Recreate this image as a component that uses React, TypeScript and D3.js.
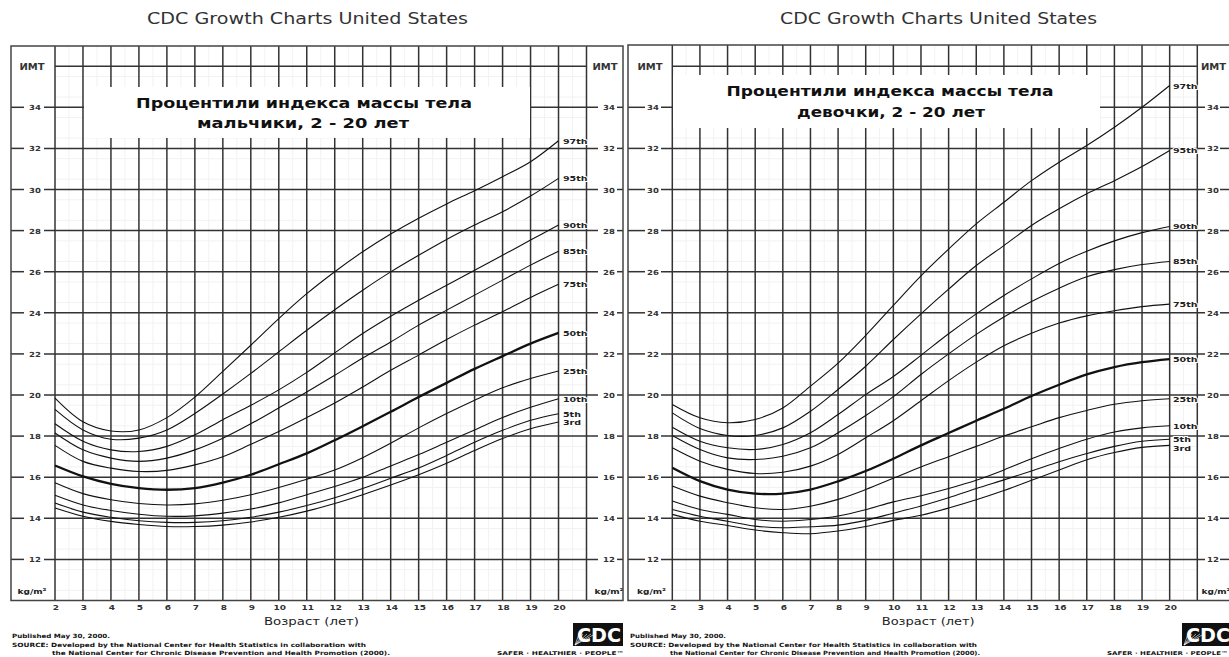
import React from "react";
import * as d3 from "d3";

// ---------- DATA ----------
const ages = [2, 3, 4, 5, 6, 7, 8, 9, 10, 11, 12, 13, 14, 15, 16, 17, 18, 19, 20];
const yTicks = [12, 14, 16, 18, 20, 22, 24, 26, 28, 30, 32, 34];
const xTickLabels = ["2", "3", "4", "5", "6", "7", "8", "9", "10", "11", "12", "13", "14", "15", "16", "17", "18", "19", "20"];
const percentileLabels = ["97th", "95th", "90th", "85th", "75th", "50th", "25th", "10th", "5th", "3rd"];

const boysP97 = [19.85, 18.7, 18.25, 18.3, 18.9, 19.9, 21.15, 22.42, 23.72, 24.93, 26.0, 26.97, 27.83, 28.6, 29.3, 29.94, 30.62, 31.35, 32.37];
const boysP95 = [19.3, 18.3, 17.85, 17.9, 18.3, 19.1, 20.05, 21.05, 22.1, 23.15, 24.15, 25.1, 25.99, 26.8, 27.57, 28.27, 28.92, 29.68, 30.54];
const boysP90 = [18.6, 17.75, 17.33, 17.25, 17.5, 18.06, 18.8, 19.5, 20.25, 21.1, 22.05, 22.99, 23.83, 24.61, 25.34, 26.07, 26.8, 27.54, 28.27];
const boysP85 = [18.15, 17.33, 16.93, 16.77, 16.93, 17.33, 17.9, 18.6, 19.37, 20.15, 20.96, 21.8, 22.58, 23.4, 24.13, 24.86, 25.59, 26.32, 27.0];
const boysP75 = [17.55, 16.77, 16.44, 16.28, 16.33, 16.6, 17.0, 17.6, 18.22, 18.9, 19.61, 20.39, 21.2, 21.94, 22.7, 23.4, 24.05, 24.75, 25.39];
const boysP50 = [16.57, 16.04, 15.68, 15.47, 15.39, 15.47, 15.74, 16.12, 16.63, 17.16, 17.8, 18.48, 19.18, 19.9, 20.59, 21.27, 21.89, 22.5, 23.02];
const boysP25 = [15.73, 15.2, 14.9, 14.72, 14.65, 14.7, 14.88, 15.15, 15.5, 15.9, 16.35, 16.95, 17.65, 18.4, 19.1, 19.75, 20.35, 20.8, 21.17];
const boysP10 = [15.12, 14.65, 14.38, 14.2, 14.1, 14.12, 14.25, 14.45, 14.75, 15.15, 15.55, 16.0, 16.55, 17.1, 17.7, 18.3, 18.9, 19.4, 19.82];
const boysP5 = [14.74, 14.3, 14.05, 13.88, 13.8, 13.8, 13.88, 14.05, 14.3, 14.62, 15.0, 15.45, 15.95, 16.45, 17.06, 17.7, 18.28, 18.77, 19.09];
const boysP3 = [14.5, 14.1, 13.85, 13.7, 13.6, 13.6, 13.67, 13.82, 14.05, 14.35, 14.72, 15.15, 15.62, 16.12, 16.68, 17.3, 17.88, 18.36, 18.69];

const girlsP97 = [19.54, 18.89, 18.65, 18.81, 19.37, 20.43, 21.55, 22.9, 24.36, 25.8, 27.1, 28.33, 29.38, 30.43, 31.33, 32.14, 33.03, 34.0, 35.06];
const girlsP95 = [19.13, 18.37, 18.03, 18.03, 18.4, 19.21, 20.27, 21.4, 22.7, 23.95, 25.15, 26.3, 27.27, 28.25, 29.06, 29.79, 30.43, 31.12, 31.9];
const girlsP90 = [18.43, 17.75, 17.43, 17.35, 17.59, 18.16, 19.05, 20.02, 20.9, 21.93, 22.98, 23.95, 24.84, 25.65, 26.4, 27.0, 27.5, 27.9, 28.2];
const girlsP85 = [18.03, 17.35, 16.94, 16.86, 17.02, 17.43, 18.16, 19.0, 19.92, 21.0, 22.0, 22.95, 23.8, 24.55, 25.2, 25.75, 26.1, 26.35, 26.5];
const girlsP75 = [17.43, 16.78, 16.38, 16.18, 16.24, 16.54, 17.11, 17.92, 18.75, 19.72, 20.7, 21.6, 22.4, 23.0, 23.5, 23.85, 24.1, 24.3, 24.42];
const girlsP50 = [16.46, 15.81, 15.4, 15.2, 15.2, 15.4, 15.8, 16.3, 16.9, 17.55, 18.15, 18.75, 19.33, 19.95, 20.5, 21.0, 21.36, 21.6, 21.75];
const girlsP25 = [15.57, 15.08, 14.76, 14.51, 14.43, 14.59, 14.92, 15.4, 15.95, 16.5, 17.0, 17.5, 18.0, 18.45, 18.9, 19.25, 19.55, 19.72, 19.82];
const girlsP10 = [14.84, 14.43, 14.19, 13.94, 13.86, 13.94, 14.11, 14.42, 14.8, 15.1, 15.45, 15.85, 16.35, 16.9, 17.4, 17.85, 18.2, 18.4, 18.5];
const girlsP5 = [14.43, 14.1, 13.86, 13.62, 13.54, 13.59, 13.67, 13.9, 14.25, 14.6, 15.0, 15.45, 15.87, 16.3, 16.75, 17.15, 17.5, 17.75, 17.85];
const girlsP3 = [14.19, 13.86, 13.65, 13.43, 13.3, 13.25, 13.38, 13.6, 13.9, 14.15, 14.5, 14.9, 15.35, 15.85, 16.35, 16.85, 17.2, 17.45, 17.55];

const boysSeries = [boysP97, boysP95, boysP90, boysP85, boysP75, boysP50, boysP25, boysP10, boysP5, boysP3];
const girlsSeries = [girlsP97, girlsP95, girlsP90, girlsP85, girlsP75, girlsP50, girlsP25, girlsP10, girlsP5, girlsP3];

const headerText = "CDC Growth Charts United States";
const titleLine1 = "Процентили индекса массы тела";
const boysTitle2 = "мальчики, 2 - 20 лет";
const girlsTitle2 = "девочки, 2 - 20 лет";
const bmiLabel = "ИМТ";
const unitLabel = "kg/m²";
const xAxisTitle = "Возраст (лет)";
const footer1 = "Published May 30, 2000.";
const footer2 = "SOURCE: Developed by the National Center for Health Statistics in collaboration with";
const footer3 = "the National Center for Chronic Disease Prevention and Health Promotion (2000).";
const sloganText = "SAFER · HEALTHIER · PEOPLE™";

// ---------- LAYOUT ----------
const FONT = "'DejaVu Sans', Verdana, sans-serif";
const SY = 0.82;
const GRID = "#333";
const yScale = d3.scaleLinear().domain([10, 36]).range([600.5, 66.2]);

type Cfg = {
  frameL: number; frameR: number; top: number;
  x2: number; x21: number;
  leftTickEnd: number; leftLabelX: number; leftLineStart: number;
  rightLineEnd: number; rightLabelX: number; rightTickStart: number;
  box: [number, number, number, number];
  title: { text: string; cx: number; y: number; w: number }[];
  headerCx: number; headerW: number;
  xTitleX: number; xTitleW: number;
  imtL: number; imtR: number; kgL: number; kgR: number;
  footX: number; footIndent: number; footW: [number, number, number];
  logoX: number; sloganX: number; sloganW: number; labelX: number;
  series: number[][];
};

const leftCfg: Cfg = {
  frameL: 11, frameR: 623, top: 46, x2: 55, x21: 586.5,
  leftTickEnd: 24, leftLabelX: 35, leftLineStart: 44,
  rightLineEnd: 598, rightLabelX: 609, rightTickStart: 617,
  box: [84, 530, 87, 138],
  title: [
    { text: titleLine1, cx: 304, y: 108, w: 336 },
    { text: boysTitle2, cx: 303, y: 128, w: 212 },
  ],
  headerCx: 307.5, headerW: 321,
  xTitleX: 264, xTitleW: 95,
  imtL: 32, imtR: 605, kgL: 32, kgR: 609,
  footX: 12, footIndent: 52, footW: [98, 354, 338],
  logoX: 573, sloganX: 497, sloganW: 127, labelX: 563,
  series: boysSeries,
};

const rightCfg: Cfg = {
  frameL: 628, frameR: 1236, top: 45, x2: 672.3, x21: 1197.3,
  leftTickEnd: 645, leftLabelX: 653, leftLineStart: 661,
  rightLineEnd: 1205, rightLabelX: 1213, rightTickStart: 1220,
  box: [673, 1100, 75, 128],
  title: [
    { text: titleLine1, cx: 890, y: 96, w: 327 },
    { text: girlsTitle2, cx: 891, y: 117, w: 188 },
  ],
  headerCx: 938.5, headerW: 317,
  xTitleX: 881.7, xTitleW: 93,
  imtL: 650, imtR: 1213.5, kgL: 651.5, kgR: 1216,
  footX: 630, footIndent: 670, footW: [96, 347, 310],
  logoX: 1182, sloganX: 1107, sloganW: 121, labelX: 1173,
  series: girlsSeries,
};

function T(props: {
  x: number; y: number; size: number; children: React.ReactNode;
  weight?: string | number; anchor?: string; w?: number; fill?: string; sy?: number; halo?: boolean;
}) {
  const { x, y, size, children, weight = "normal", anchor = "start", w, fill = "#222", sy = SY, halo } = props;
  return (
    <text
      transform={`translate(${x},${y}) scale(1,${sy})`}
      fontFamily={FONT}
      fontSize={size}
      fontWeight={weight as any}
      textAnchor={anchor as any}
      fill={fill}
      textLength={w}
      lengthAdjust={w ? "spacingAndGlyphs" : undefined}
      stroke={halo ? "#fff" : undefined}
      strokeWidth={halo ? 2.2 : undefined}
      style={halo ? { paintOrder: "stroke" } : undefined}
    >
      {children}
    </text>
  );
}

function Panel({ cfg }: { cfg: Cfg }) {
  const xScale = d3.scaleLinear().domain([2, 21]).range([cfg.x2, cfg.x21]);
  const bottom = yScale(10);
  const yearLines = d3.range(2, 22);
  const minorX = d3.range(2.5, 21, 1);
  const minorY = d3.range(10.5, 36, 1);
  const line = d3
    .line<number>()
    .x((_, i) => xScale(ages[i]))
    .y((d) => yScale(d))
    .curve(d3.curveCatmullRom.alpha(0.5));

  const ends = cfg.series.map((s) => yScale(s[s.length - 1]));
  const labelY = ends.slice();
  for (let i = 1; i < labelY.length; i++) {
    if (labelY[i] - labelY[i - 1] < 8.5) labelY[i] = labelY[i - 1] + 8.5;
  }

  const [bx0, bx1, by0, by1] = cfg.box;

  return (
    <g>
      <T x={cfg.headerCx} y={24} size={19} anchor="middle" w={cfg.headerW} fill="#333">
        {headerText}
      </T>

      {/* faint minor grid */}
      {minorX.map((a) => (
        <line key={"mx" + a} x1={xScale(a)} x2={xScale(a)} y1={cfg.top} y2={bottom} stroke="#f2f2f2" strokeWidth={1} />
      ))}
      {minorY.map((v) => (
        <line key={"my" + v} x1={cfg.x2} x2={cfg.x21} y1={yScale(v)} y2={yScale(v)} stroke="#f2f2f2" strokeWidth={1} />
      ))}

      {yearLines.map((a) => (
        <line key={"vx" + a} x1={xScale(a)} x2={xScale(a)} y1={cfg.top} y2={bottom} stroke={GRID} strokeWidth={1.5} />
      ))}

      {yTicks.map((v) => {
        const y = yScale(v);
        return (
          <g key={"hy" + v}>
            <line x1={cfg.frameL} x2={cfg.leftTickEnd} y1={y} y2={y} stroke={GRID} strokeWidth={1.5} />
            <line x1={cfg.leftLineStart} x2={cfg.rightLineEnd} y1={y} y2={y} stroke={GRID} strokeWidth={1.5} />
            <line x1={cfg.rightTickStart} x2={cfg.frameR} y1={y} y2={y} stroke={GRID} strokeWidth={1.5} />
            <T x={cfg.leftLabelX} y={y + 3} size={8.5} weight="bold" anchor="middle" fill="#333">{String(v)}</T>
            <T x={cfg.rightLabelX} y={y + 3} size={8.5} weight="bold" anchor="middle" fill="#333">{String(v)}</T>
          </g>
        );
      })}
      <line x1={cfg.x2} x2={cfg.x21} y1={yScale(36)} y2={yScale(36)} stroke={GRID} strokeWidth={1.5} />
      <T x={cfg.imtL} y={yScale(36) + 4} size={10} weight="bold" anchor="middle" fill="#333">{bmiLabel}</T>
      <T x={cfg.imtR} y={yScale(36) + 4} size={10} weight="bold" anchor="middle" fill="#333">{bmiLabel}</T>
      <T x={cfg.kgL} y={594} size={9} weight="bold" anchor="middle" fill="#222">{unitLabel}</T>
      <T x={cfg.kgR} y={594} size={9} weight="bold" anchor="middle" fill="#222">{unitLabel}</T>

      <rect x={cfg.frameL} y={cfg.top} width={cfg.frameR - cfg.frameL} height={bottom - cfg.top} fill="none" stroke="#444" strokeWidth={1.5} />

      <rect x={bx0} y={by0} width={bx1 - bx0} height={by1 - by0} fill="#fff" />
      {cfg.title.map((t, i) => (
        <T key={"t" + i} x={t.cx} y={t.y} size={17.5} weight="bold" anchor="middle" w={t.w} fill="#111">
          {t.text}
        </T>
      ))}

      {cfg.series.map((s, i) => (
        <path
          key={"c" + i}
          d={line(s) || ""}
          fill="none"
          stroke="#111"
          strokeWidth={percentileLabels[i] === "50th" ? 2.3 : 1.1}
        />
      ))}

      {percentileLabels.map((lab, i) => (
        <T key={"pl" + i} x={cfg.labelX} y={labelY[i] + 3} size={9.5} weight="bold" fill="#222" halo>
          {lab}
        </T>
      ))}

      {xTickLabels.map((lab, i) => (
        <T key={"xl" + i} x={xScale(ages[i]) + 1} y={610} size={9} weight="bold" anchor="middle" fill="#333">
          {lab}
        </T>
      ))}
      <T x={cfg.xTitleX} y={625} size={13} w={cfg.xTitleW} fill="#222">{xAxisTitle}</T>

      <T x={cfg.footX} y={638} size={7} weight="bold" w={cfg.footW[0]} fill="#111">{footer1}</T>
      <T x={cfg.footX} y={647} size={7} weight="bold" w={cfg.footW[1]} fill="#111">{footer2}</T>
      <T x={cfg.footIndent} y={655} size={7} weight="bold" w={cfg.footW[2]} fill="#111">{footer3}</T>

      <g>
        <rect x={cfg.logoX} y={623} width={50} height={23} fill="#111" />
        {[0, 1, 2, 3, 4].map((k) => (
          <line key={"ray" + k} x1={cfg.logoX + 2} y1={645} x2={cfg.logoX + 6 + k * 4} y2={634} stroke="#fff" strokeWidth={0.6} />
        ))}
        <T x={cfg.logoX + 26} y={642} size={20} weight="bold" anchor="middle" w={44} fill="#fff" sy={1}>CDC</T>
      </g>
      <T x={cfg.sloganX} y={655} size={6.5} weight="bold" w={cfg.sloganW} fill="#111">{sloganText}</T>
    </g>
  );
}

export default function App() {
  return (
    <div style={{ position: "absolute", left: 0, top: 0, width: 1229, height: 657, background: "#fff" }}>
      <svg width={1229} height={657} viewBox="0 0 1229 657" style={{ display: "block" }}>
        <rect x={0} y={0} width={1229} height={657} fill="#fff" />
        <Panel cfg={leftCfg} />
        <Panel cfg={rightCfg} />
      </svg>
    </div>
  );
}
